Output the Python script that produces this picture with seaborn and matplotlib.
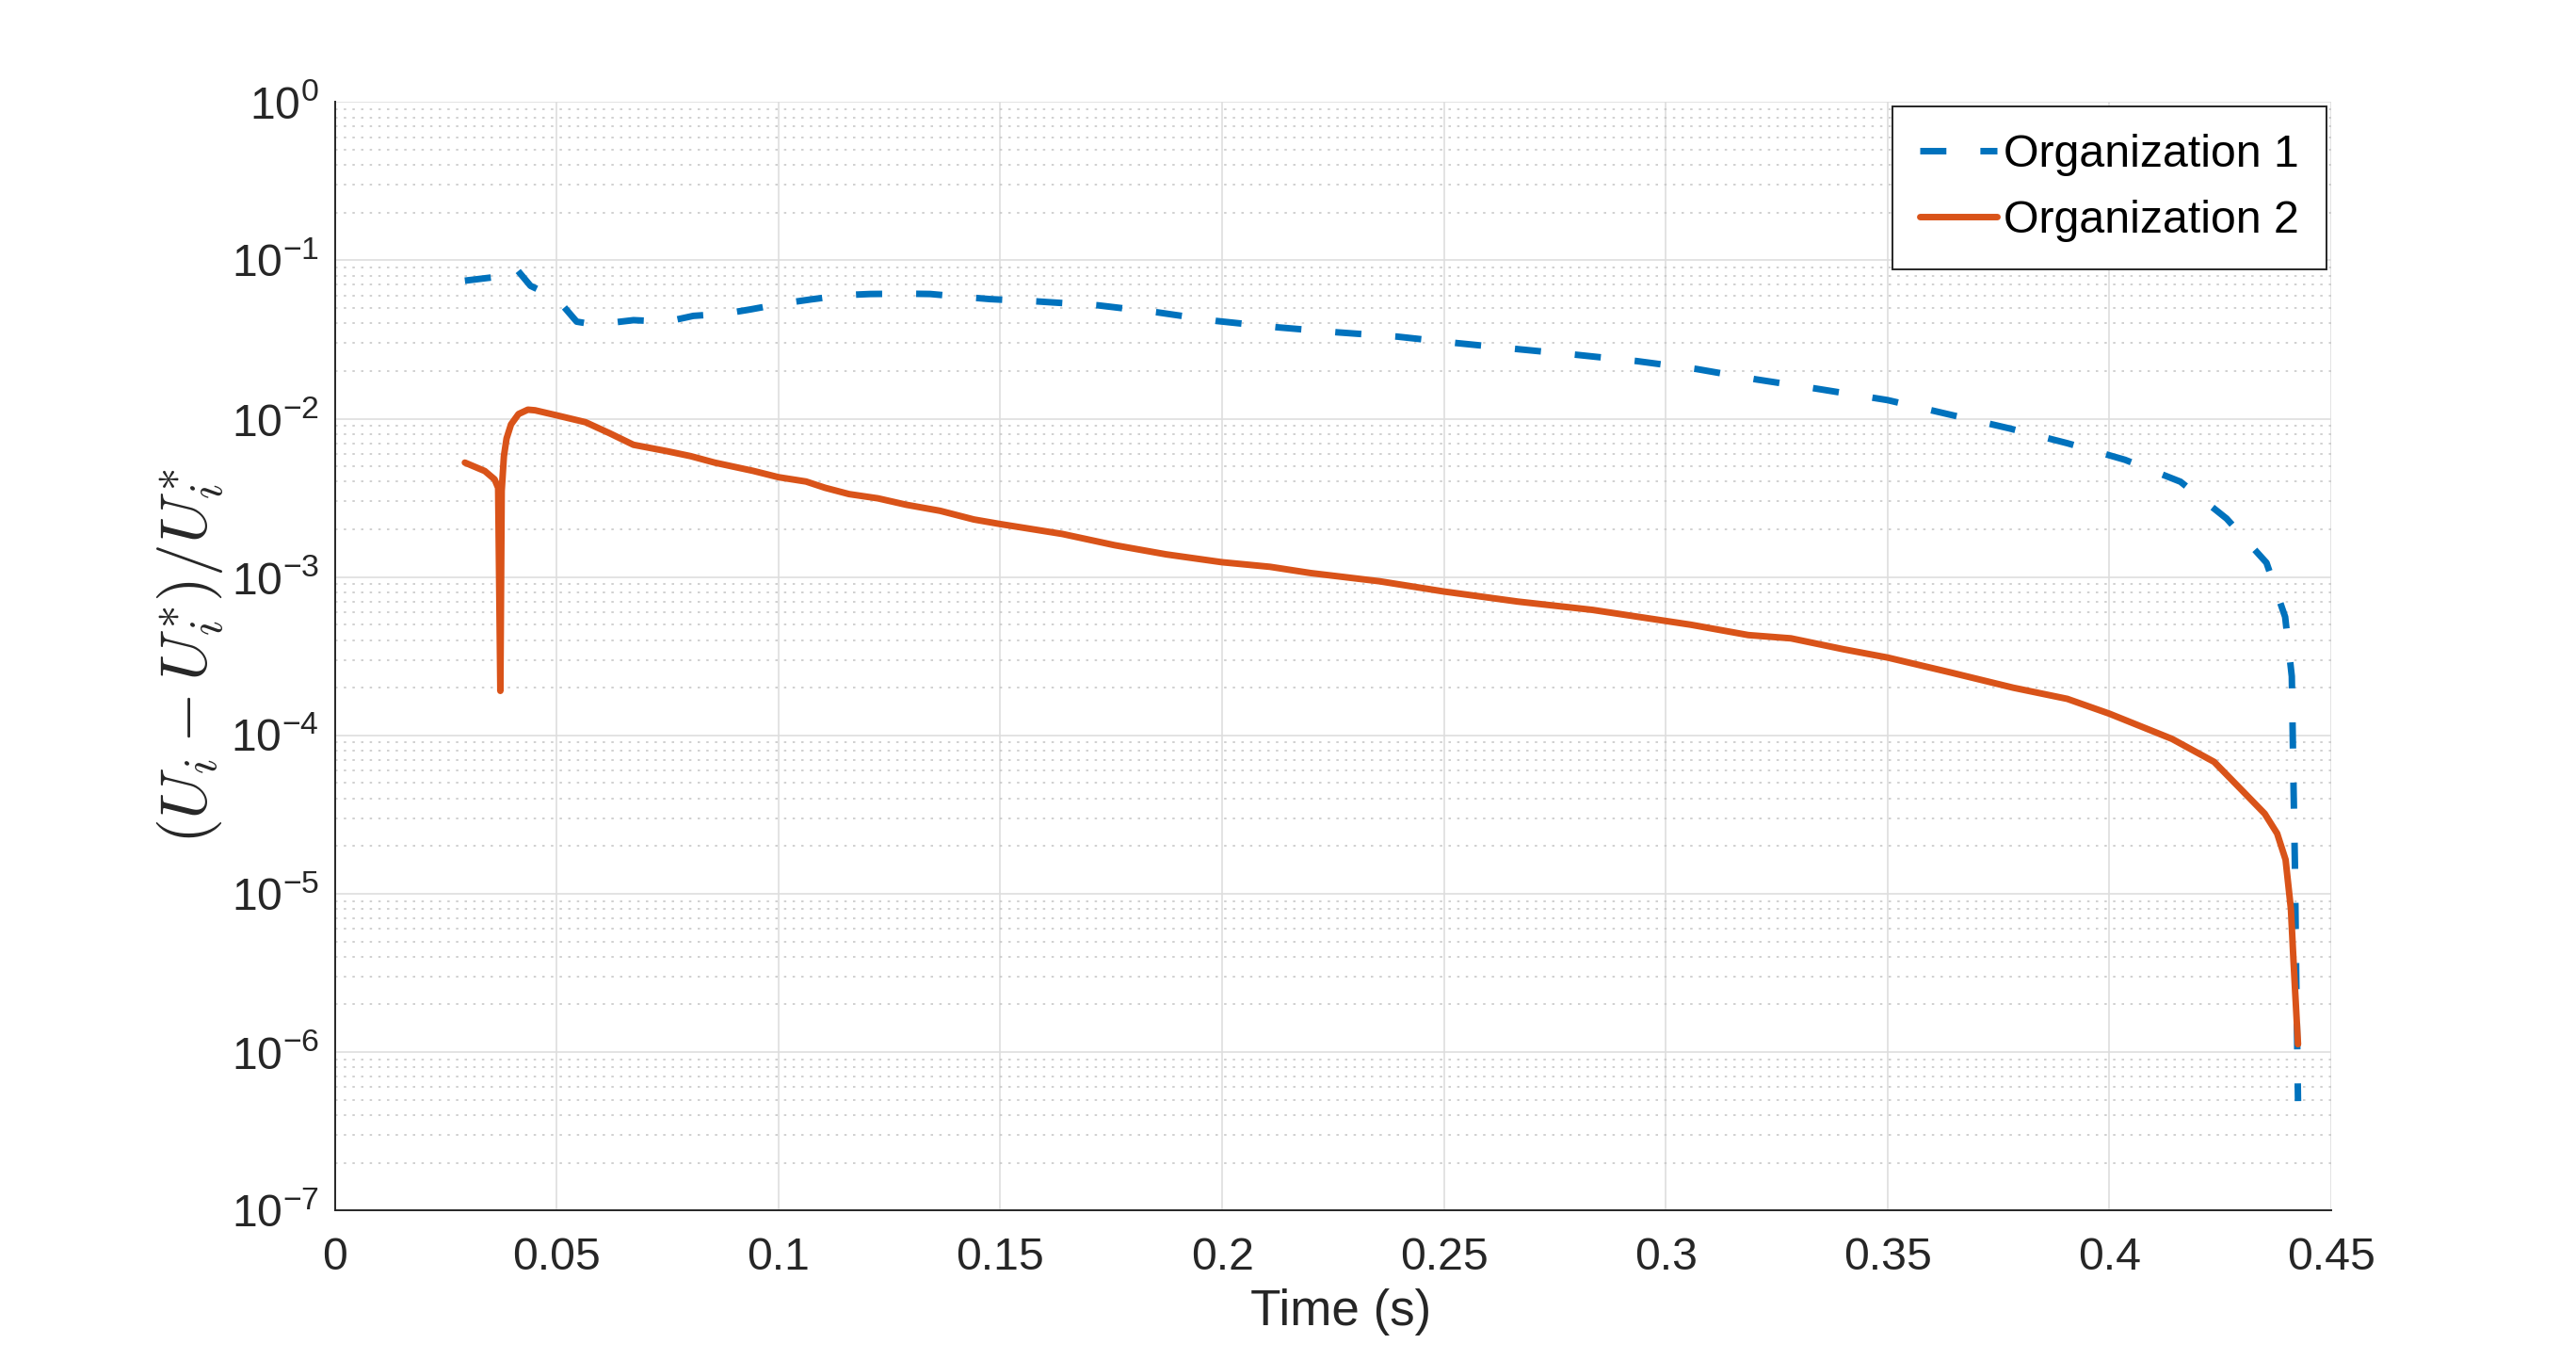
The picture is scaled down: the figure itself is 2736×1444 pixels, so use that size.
import numpy as np
import pandas as pd
import matplotlib
matplotlib.use("Agg")
import matplotlib.pyplot as plt
from matplotlib.ticker import LogLocator, NullLocator, FuncFormatter
import seaborn as sns

# values
time_org1 = [0.0293, 0.0354, 0.0401, 0.0441, 0.0500, 0.0545, 0.0580, 0.0608, 0.0673,
             0.0748, 0.0808, 0.0878, 0.0937, 0.1013, 0.1072, 0.1148, 0.1207, 0.1288,
             0.1342, 0.1418, 0.1477, 0.1584, 0.1720, 0.1855, 0.1988, 0.2123, 0.2260,
             0.2394, 0.2530, 0.2666, 0.2800, 0.2935, 0.3069, 0.3204, 0.3338, 0.3500,
             0.3641, 0.3773, 0.3905, 0.4035, 0.4160, 0.4264, 0.4354, 0.4396, 0.4411,
             0.4415, 0.4418, 0.4421, 0.4425]
err_org1 = [0.0744, 0.078, 0.094, 0.069, 0.0575, 0.041, 0.0395, 0.0399, 0.0419,
            0.041, 0.0446, 0.046, 0.049, 0.0536, 0.0566, 0.0603, 0.0613, 0.0616,
            0.0613, 0.0587, 0.0569, 0.055, 0.052, 0.0469, 0.0414, 0.0378, 0.0351,
            0.033, 0.030, 0.0275, 0.0253, 0.0231, 0.0206, 0.0177, 0.0155, 0.0131,
            0.0106, 0.0087, 0.0070, 0.0055, 0.0040, 0.00234, 0.00123, 5.6e-4, 2.36e-4,
            4.6e-5, 1.55e-5, 3.0e-6, 4.9e-7]

time_org2 = [0.0293, 0.0338, 0.0360, 0.0368, 0.0373, 0.0376, 0.0381, 0.0387, 0.0397,
             0.0414, 0.0435, 0.0451, 0.0500, 0.0565, 0.0619, 0.0673, 0.0748, 0.0802,
             0.0856, 0.0943, 0.1000, 0.1062, 0.1105, 0.1159, 0.1224, 0.1288, 0.1364,
             0.1440, 0.1500, 0.1640, 0.1757, 0.1874, 0.2000, 0.2108, 0.2199, 0.2355,
             0.2500, 0.2666, 0.2835, 0.2939, 0.3056, 0.3186, 0.3282, 0.3400, 0.3500,
             0.3641, 0.3783, 0.3905, 0.4000, 0.4141, 0.4236, 0.4302, 0.4350, 0.4378,
             0.4397, 0.4409, 0.4415, 0.4425]
err_org2 = [0.00528, 0.00467, 0.00414, 0.00366, 1.91e-4, 0.0035, 0.0058, 0.0075, 0.0092,
            0.0107, 0.0114, 0.0113, 0.0105, 0.0095, 0.0081, 0.00684, 0.00624, 0.0058,
            0.00528, 0.00468, 0.00427, 0.00401, 0.00366, 0.00334, 0.00314, 0.00286, 0.00262,
            0.00231, 0.00216, 0.00187, 0.00159, 0.00139, 0.00124, 0.00116, 0.00106, 9.4e-4,
            8.1e-4, 7.0e-4, 6.2e-4, 5.6e-4, 5.0e-4, 4.3e-4, 4.1e-4, 3.5e-4, 3.1e-4,
            2.5e-4, 2.0e-4, 1.7e-4, 1.37e-4, 9.5e-5, 6.8e-5, 4.4e-5, 3.2e-5, 2.4e-5,
            1.64e-5, 8.0e-6, 3.7e-6, 1.12e-6]

series_names = ["Organization 1", "Organization 2"]
x_ticks = [0, 0.05, 0.1, 0.15, 0.2, 0.25, 0.3, 0.35, 0.4, 0.45]
x_tick_labels = ["0", "0.05", "0.1", "0.15", "0.2", "0.25", "0.3", "0.35", "0.4", "0.45"]

df = pd.concat([
    pd.DataFrame({"time": time_org1, "err": err_org1, "org": series_names[0]}),
    pd.DataFrame({"time": time_org2, "err": err_org2, "org": series_names[1]}),
], ignore_index=True)

sns.set_theme(style="white")
plt.rcParams["font.family"] = ["Liberation Sans", "DejaVu Sans"]
plt.rcParams["mathtext.fontset"] = "custom"
plt.rcParams["mathtext.rm"] = "Liberation Sans"
plt.rcParams["mathtext.it"] = "Liberation Sans:italic"
plt.rcParams["axes.unicode_minus"] = False

dark = "#262626"
fig = plt.figure(figsize=(13.68, 7.22), dpi=200)
ax = fig.add_axes([0.13, 0.11, 0.775, 0.815])

sns.lineplot(data=df, x="time", y="err", hue="org", style="org",
             palette={series_names[0]: "#0072BD", series_names[1]: "#D95319"},
             dashes={series_names[0]: (4.0, 5.2), series_names[1]: ""},
             linewidth=2.5, estimator=None, sort=False, ax=ax)

ax.set_yscale("log")
ax.set_xlim(0, 0.45)
ax.set_ylim(1e-7, 1)
ax.set_xticks(x_ticks)
ax.set_xticklabels(x_tick_labels)
ax.xaxis.set_minor_locator(NullLocator())
ax.yaxis.set_major_locator(LogLocator(base=10, numticks=20))
ax.yaxis.set_minor_locator(LogLocator(base=10, subs=np.arange(2, 10), numticks=100))
ax.yaxis.set_major_formatter(FuncFormatter(lambda v, p: r"$\mathregular{10^{%d}}$" % round(np.log10(v))))

ax.set_axisbelow(True)
ax.grid(which="major", color="#dedede", linewidth=0.6)
ax.grid(which="minor", axis="y", color="#c8c8c8", linewidth=0.6, linestyle=(0, (1.5, 4)))

for s in ["top", "right"]:
    ax.spines[s].set_visible(False)
for s in ["left", "bottom"]:
    ax.spines[s].set_color(dark)
    ax.spines[s].set_linewidth(0.7)

ax.tick_params(which="major", direction="in", length=7.2, width=0.6, colors=dark, labelsize=17.4)
ax.tick_params(which="minor", direction="in", length=3.6, width=0.6, colors=dark)
ax.tick_params(axis="x", pad=10)
ax.tick_params(axis="y", pad=6)

ax.set_xlabel("Time (s)", fontsize=19.1, color=dark)
ax.xaxis.set_label_coords(0.504, -0.07)
ylab = ax.set_ylabel(r"$(U_i - U_i^{*})/U_i^{*}$", fontsize=25, color=dark)
ylab.set_math_fontfamily("cm")
ax.yaxis.set_label_coords(-0.054, 0.5)

old = ax.get_legend()
handles = list(old.legend_handles)
labels = [t.get_text() for t in old.get_texts()]
pairs = [(h, l) for h, l in zip(handles, labels) if l in series_names]
old.remove()
leg = ax.legend([p[0] for p in pairs], [p[1] for p in pairs],
                loc="upper right", bbox_to_anchor=(0.9977, 0.9957), borderaxespad=0,
                frameon=True, fancybox=False, edgecolor=dark, framealpha=1,
                fontsize=17.4, handlelength=1.7, handletextpad=0.15,
                borderpad=0.6, labelspacing=0.5)
leg.get_frame().set_linewidth(0.7)
for t in leg.get_texts():
    t.set_color("black")

fig.savefig("out.png", dpi=200)
